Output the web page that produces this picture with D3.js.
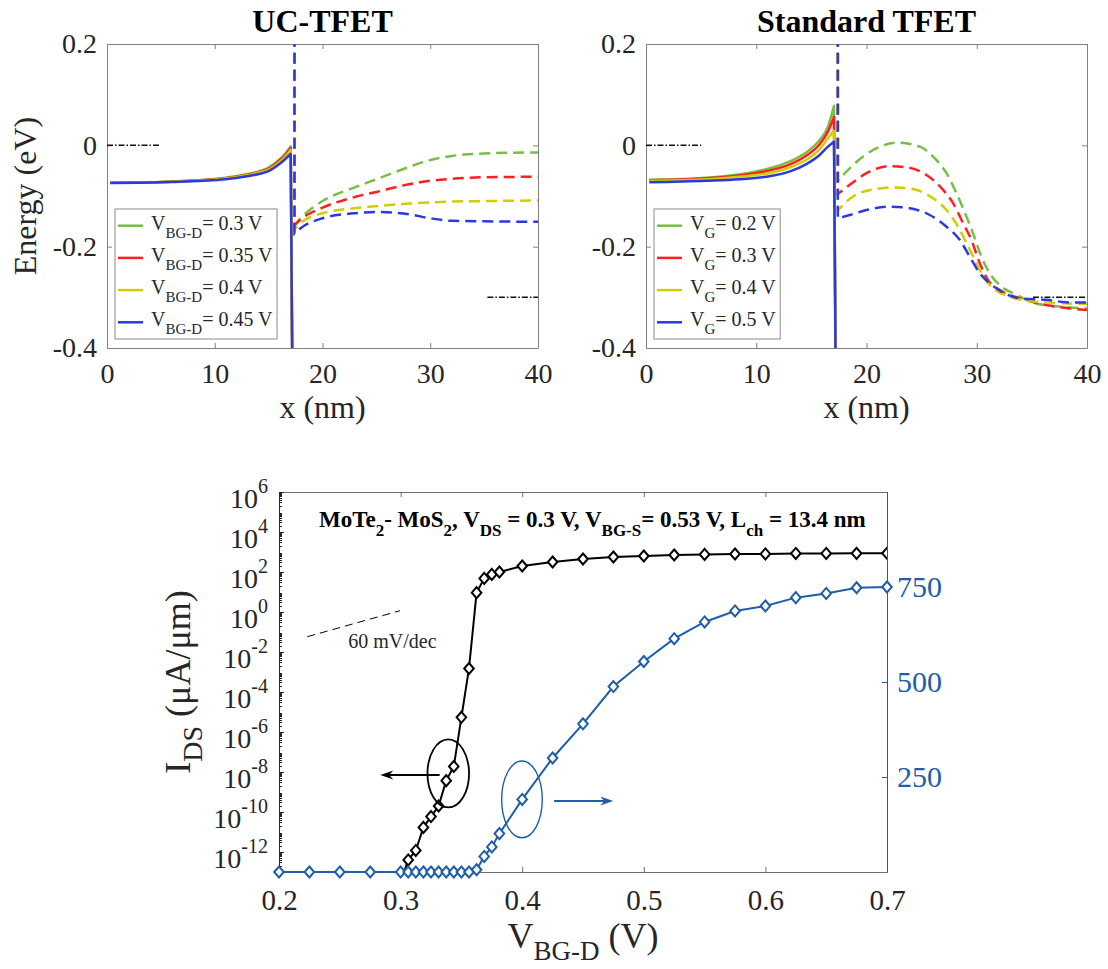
<!DOCTYPE html>
<html>
<head>
<meta charset="utf-8">
<script src="https://d3js.org/d3.v7.min.js"></script>
<style>
  body { margin: 0; background: #fff; }
  svg text { font-family: "Liberation Serif", "Times New Roman", serif; fill: #262626; }
</style>
</head>
<body>
<svg width="1108" height="969" font-family="Liberation Serif, serif"></svg>
<script>
var svg = d3.select('svg');

// ---- band diagrams: x in nm, energy in eV ----
var ucLegendSub = 'BG-D';
var ucLegendValues = ['0.3', '0.35', '0.4', '0.45'];
var stdLegendSub = 'G';
var stdLegendValues = ['0.2', '0.3', '0.4', '0.5'];

var ucSolidX = [0.3, 3, 6, 9, 11, 13, 14, 15, 16, 16.5, 17.05];
var ucSolidGreen = [-0.074, -0.0735, -0.0715, -0.068, -0.064, -0.057, -0.052, -0.044, -0.028, -0.017, -0.002];
var ucSolidRed = [-0.074, -0.0735, -0.0718, -0.0685, -0.065, -0.058, -0.053, -0.046, -0.030, -0.020, -0.005];
var ucSolidYellow = [-0.074, -0.0737, -0.072, -0.069, -0.0655, -0.059, -0.054, -0.048, -0.033, -0.023, -0.009];
var ucSolidBlue = [-0.0745, -0.074, -0.0725, -0.070, -0.067, -0.061, -0.057, -0.051, -0.037, -0.028, -0.017];

var ucDashX = [17.4, 18, 20, 23, 25, 28, 30, 32, 35, 40];
var ucDashGreen = [-0.157, -0.143, -0.110, -0.083, -0.067, -0.043, -0.029, -0.021, -0.016, -0.014];
var ucDashRed = [-0.158, -0.146, -0.123, -0.102, -0.092, -0.077, -0.070, -0.066, -0.063, -0.062];
var ucDashYellow = [-0.166, -0.153, -0.134, -0.124, -0.120, -0.115, -0.1125, -0.111, -0.110, -0.109];
var ucDashBlue = [-0.174, -0.163, -0.144, -0.134, -0.1316, -0.136, -0.144, -0.149, -0.150, -0.151];

var stdSolidX = [0.3, 5.5, 8.5, 10.9, 13, 14.5, 15.75, 16.5, 17.05];
var stdSolidGreen = [-0.068, -0.064, -0.057, -0.047, -0.032, -0.0145, 0.0105, 0.037, 0.078];
var stdSolidRed = [-0.069, -0.065, -0.0595, -0.051, -0.038, -0.021, 0.002, 0.027, 0.056];
var stdSolidYellow = [-0.070, -0.067, -0.062, -0.056, -0.044, -0.029, -0.008, 0.0138, 0.029];
var stdSolidBlue = [-0.073, -0.070, -0.067, -0.062, -0.052, -0.0375, -0.019, -0.0026, 0.0072];

var stdDashGreenX = [17.4, 18.78, 20.6, 22.87, 24.84, 26.2, 27.26, 28.17, 29.07, 29.67, 30.43, 31.19, 32.25, 33.6, 35.4, 38.45, 40];
var stdDashGreen = [-0.07, -0.039, -0.0092, 0.0053, -0.0027, -0.0257, -0.055, -0.095, -0.141, -0.174, -0.220, -0.253, -0.279, -0.295, -0.312, -0.320, -0.322];
var stdDashRedX = [17.4, 18.49, 20.0, 22.11, 23.63, 25.44, 26.95, 27.86, 28.77, 29.52, 30.28, 31.03, 32.1, 33.9, 36.3, 38.45, 40];
var stdDashRed = [-0.096, -0.078, -0.055, -0.041, -0.0434, -0.0586, -0.088, -0.1145, -0.154, -0.187, -0.233, -0.266, -0.2855, -0.302, -0.315, -0.322, -0.325];
var stdDashYellowX = [17.4, 18.78, 20.6, 22.72, 24.54, 26.04, 27.26, 28.31, 29.07, 29.83, 30.58, 31.49, 33.0, 35.4, 38.45, 40];
var stdDashYellow = [-0.128, -0.101, -0.087, -0.083, -0.088, -0.1046, -0.1276, -0.1606, -0.193, -0.226, -0.259, -0.282, -0.2987, -0.3086, -0.312, -0.313];
var stdDashBlueX = [17.4, 18.49, 20.0, 22.11, 23.93, 25.74, 27.26, 28.47, 29.37, 30.28, 31.19, 32.25, 33.9, 36.3, 38.45, 40];
var stdDashBlue = [-0.144, -0.1375, -0.1276, -0.121, -0.1243, -0.1375, -0.1606, -0.187, -0.22, -0.2526, -0.2724, -0.289, -0.302, -0.305, -0.310, -0.310];

// fermi levels: [x start, x end, energy]
var ucFermi = [[0, 5, 0], [35.3, 40, -0.3]];
var stdFermi = [[0, 5, 0], [35.1, 40, -0.3]];

// junction: solid bands fall off at 17.2 nm, dashed bands enter at 17.4 nm
var dropX = 17.2, dropEnd = -0.45, dashTop = 0.25;

var bandTicksX = [0, 10, 20, 30, 40];
var bandTicksY = [-0.4, -0.2, 0, 0.2];

// ---- transfer curve: V_BG-D in V, I_DS in uA/um ----
var vbgLog = [0.3, 0.30625, 0.3125, 0.31875, 0.325, 0.33125, 0.3375, 0.34375, 0.35, 0.35625, 0.3625, 0.36875, 0.375, 0.38125,
  0.4, 0.425, 0.45, 0.475, 0.5, 0.525, 0.55, 0.575, 0.6, 0.625, 0.65, 0.675, 0.7];
var idsLog = [3.2e-14, 4e-13, 1.2e-12, 1.7e-11, 5.9e-11, 2e-10, 3.7e-9, 1.9e-8, 5.4e-6, 1.5e-3, 9.3, 48, 76, 100,
  200, 316, 447, 562, 631, 708, 759, 794, 800, 850, 850, 855, 860];
var vbgLin = [0.2, 0.225, 0.25, 0.275, 0.3, 0.30625, 0.3125, 0.31875, 0.325, 0.33125, 0.3375, 0.34375, 0.35, 0.35625,
  0.3625, 0.36875, 0.375, 0.38125, 0.4, 0.425, 0.45, 0.475, 0.5, 0.525, 0.55, 0.575, 0.6, 0.625, 0.65, 0.675, 0.7];
var idsLin = [0, 0, 0, 0, 0, 0, 0, 0, 0, 0, 0, 0, 0, 0,
  6, 41, 66, 101, 191, 300, 390, 488, 554, 614, 658, 687, 700, 722, 733, 748, 750];

var vTicks = [0.2, 0.3, 0.4, 0.5, 0.6, 0.7];
var logTickExps = [-12, -10, -8, -6, -4, -2, 0, 2, 4, 6];
var linTicks = [250, 500, 750];

// annotations (data units)
var leftEllipse = [0.3392, -8.07, 0.0171, 1.7];   // centre V, centre log10 I, half width V, half height decades
var rightEllipse = [0.3998, 191, 0.0167, 101];    // centre V, centre I, half width V, half height I
var leftArrow = [0.3321, 0.2833, -8.15];          // from V, to V, log10 I
var rightArrow = [0.4262, 0.4749, 187];           // from V, to V, I
var slopeLine = [[0.2233, -1.235], [0.2995, 0.065]];
var slopeLabel = [0.257, -1.8];
var infoPos = [0.2329, 4.25];

var bandColors = ['#78be46', '#ff1f1f', '#d2cd00', '#2a3ae0'];
var blueAxis = '#1f5ea8';
var serif = '"Liberation Serif", "Times New Roman", serif';

// rich text helper: parts are [text, font size, baseline shift]
function addRich(t, parts) {
  var shift = 0;
  parts.forEach(function(p) {
    t.append('tspan').attr('font-size', p[1]).attr('dy', p[2] - shift).text(p[0]);
    shift = p[2];
  });
  return t;
}

function styleAxis(g, color, size) {
  g.attr('font-size', size).attr('font-family', serif).attr('color', color);
}

// ================= band diagram panels =================
var panelTop = 44, panelBottom = 348;

function drawBand(p) {
  var x = d3.scaleLinear().domain([0, 40]).range([p.left, p.right]);
  var y = d3.scaleLinear().domain([-0.4, 0.2]).range([panelBottom, panelTop]);
  var fmt = function(d) { return d === 0 ? '0' : d.toFixed(1); };

  svg.append('clipPath').attr('id', p.id)
    .append('rect')
    .attr('x', p.left).attr('y', panelTop)
    .attr('width', p.right - p.left).attr('height', panelBottom - panelTop);

  // box with inward ticks on all sides
  svg.append('g').attr('transform', 'translate(0,' + panelBottom + ')')
    .call(d3.axisBottom(x).tickValues(bandTicksX).tickSize(-5).tickSizeOuter(0).tickPadding(15))
    .call(styleAxis, '#808080', 28);
  svg.append('g').attr('transform', 'translate(0,' + panelTop + ')')
    .call(d3.axisTop(x).tickValues(bandTicksX).tickSize(-5).tickSizeOuter(0).tickFormat(''))
    .call(styleAxis, '#808080', 28);
  svg.append('g').attr('transform', 'translate(' + p.left + ',0)')
    .call(d3.axisLeft(y).tickValues(bandTicksY).tickSize(-5).tickSizeOuter(0).tickPadding(10).tickFormat(fmt))
    .call(styleAxis, '#808080', 28);
  svg.append('g').attr('transform', 'translate(' + p.right + ',0)')
    .call(d3.axisRight(y).tickValues(bandTicksY).tickSize(-5).tickSizeOuter(0).tickFormat(''))
    .call(styleAxis, '#808080', 28);

  var line = d3.line()
    .x(d => x(d[0]))
    .y(d => y(d[1]))
    .curve(d3.curveMonotoneX);

  var plot = svg.append('g').attr('clip-path', 'url(#' + p.id + ')');

  // valence band in the source (solid), falling off at the junction
  p.solid.forEach(function(s, i) {
    plot.append('path')
      .attr('d', line(d3.zip(p.solidX, s)) + 'L' + x(dropX) + ',' + y(dropEnd))
      .attr('fill', 'none')
      .attr('stroke', bandColors[i])
      .attr('stroke-width', 2.5)
      .attr('stroke-linejoin', 'round');
  });

  // conduction band in the channel (dashed), dropping in from the top
  p.dash.forEach(function(s, i) {
    var xs = p.dashX[i];
    plot.append('path')
      .attr('d', 'M' + x(xs[0]) + ',' + y(dashTop) + 'L' + line(d3.zip(xs, s)).slice(1))
      .attr('fill', 'none')
      .attr('stroke', bandColors[i])
      .attr('stroke-width', 2.5)
      .attr('stroke-dasharray', '11,6');
  });

  // fermi levels
  plot.selectAll('.fermi')
    .data(p.fermi)
    .enter()
    .append('line')
    .attr('x1', d => x(d[0]))
    .attr('x2', d => x(d[1]))
    .attr('y1', d => y(d[2]))
    .attr('y2', d => y(d[2]))
    .attr('stroke', '#111')
    .attr('stroke-width', 1.5)
    .attr('stroke-dasharray', '6,2,1.5,2');

  // legend
  var lx = p.left + 8, ly = 209;
  var legend = svg.append('g');
  var box = legend.append('rect')
    .attr('x', lx).attr('y', ly).attr('height', 130)
    .attr('fill', '#fff').attr('stroke', '#8a8a8a').attr('stroke-width', 1);
  var texts = legend.append('g');
  p.legendValues.forEach(function(v, i) {
    var cy = ly + 16.7 + i * 32.2;
    legend.append('line')
      .attr('x1', lx + 3).attr('x2', lx + 28)
      .attr('y1', cy).attr('y2', cy)
      .attr('stroke', bandColors[i]).attr('stroke-width', 2.5);
    var t = texts.append('text').attr('x', lx + 36).attr('y', cy + 4);
    addRich(t, [['V', 20, 0], [p.legendSub, 15, 8], ['= ' + v + ' V', 20, 0]]);
  });
  var bb = texts.node().getBBox();
  box.attr('width', bb.x + bb.width + 4 - lx);

  // title and axis labels
  svg.append('text')
    .attr('x', (p.left + p.right) / 2).attr('y', 32)
    .attr('text-anchor', 'middle')
    .attr('font-size', 32).attr('font-weight', 'bold')
    .style('fill', '#000')
    .text(p.title);
  svg.append('text')
    .attr('x', (p.left + p.right) / 2).attr('y', 418)
    .attr('text-anchor', 'middle')
    .attr('font-size', 32)
    .text('x (nm)');
  if (p.ylabel) {
    svg.append('text')
      .attr('transform', 'translate(36,' + (panelTop + panelBottom) / 2 + ') rotate(-90)')
      .attr('text-anchor', 'middle')
      .attr('font-size', 32)
      .text(p.ylabel);
  }
}

drawBand({
  id: 'clipUC', left: 107, right: 538, title: 'UC-TFET', ylabel: 'Energy (eV)',
  solidX: ucSolidX,
  solid: [ucSolidGreen, ucSolidRed, ucSolidYellow, ucSolidBlue],
  dashX: [ucDashX, ucDashX, ucDashX, ucDashX],
  dash: [ucDashGreen, ucDashRed, ucDashYellow, ucDashBlue],
  fermi: ucFermi, legendSub: ucLegendSub, legendValues: ucLegendValues
});

drawBand({
  id: 'clipStd', left: 646, right: 1087, title: 'Standard TFET', ylabel: null,
  solidX: stdSolidX,
  solid: [stdSolidGreen, stdSolidRed, stdSolidYellow, stdSolidBlue],
  dashX: [stdDashGreenX, stdDashRedX, stdDashYellowX, stdDashBlueX],
  dash: [stdDashGreen, stdDashRed, stdDashYellow, stdDashBlue],
  fermi: stdFermi, legendSub: stdLegendSub, legendValues: stdLegendValues
});

// ================= transfer characteristic =================
var bL = 279, bR = 887, bT = 492, bB = 872;
var bx = d3.scaleLinear().domain([0.2, 0.7]).range([bL, bR]);
var byLog = d3.scaleLog().domain([1e-13, 1e6]).range([bB, bT]);
var byLin = d3.scaleLinear().domain([0, 1000]).range([bB, bT]);

svg.append('clipPath').attr('id', 'clipIV')
  .append('rect').attr('x', bL).attr('y', bT - 2).attr('width', bR - bL).attr('height', bB - bT + 4);

// bottom and top x axes
svg.append('g').attr('transform', 'translate(0,' + bB + ')')
  .call(d3.axisBottom(bx).tickValues(vTicks).tickSize(-5).tickSizeOuter(0).tickPadding(17).tickFormat(d3.format('.1f')))
  .call(styleAxis, '#6e6e6e', 29);
svg.append('g').attr('transform', 'translate(0,' + bT + ')')
  .call(d3.axisTop(bx).tickValues(vTicks).tickSize(-5).tickSizeOuter(0).tickFormat(''))
  .call(styleAxis, '#6e6e6e', 29);

// left log axis
var leftAxis = svg.append('g').attr('transform', 'translate(' + bL + ',0)')
  .call(d3.axisLeft(byLog).tickValues(logTickExps.map(e => Math.pow(10, e))).tickSize(-5).tickSizeOuter(0).tickPadding(11).tickFormat(''))
  .call(styleAxis, '#262626', 28);
leftAxis.selectAll('.tick text').each(function(d) {
  var t = d3.select(this).attr('dy', null).attr('y', 15);
  var e = Math.round(Math.log10(d));
  addRich(t, [['10', 28, 0], [String(e), 20, -15]]);
});

// minor log ticks
var minor = [];
d3.range(-13, 6).forEach(function(e) {
  d3.range(2, 10).forEach(function(k) { minor.push(k * Math.pow(10, e)); });
});
svg.append('g').selectAll('line')
  .data(minor)
  .enter()
  .append('line')
  .attr('x1', bL).attr('x2', bL + 3)
  .attr('y1', d => Math.round(byLog(d)) + 0.5)
  .attr('y2', d => Math.round(byLog(d)) + 0.5)
  .attr('stroke', '#262626').attr('stroke-width', 1);

// right linear axis
var rightAxis = svg.append('g').attr('transform', 'translate(' + bR + ',0)')
  .call(d3.axisRight(byLin).tickValues(linTicks).tickSize(-5).tickSizeOuter(0).tickPadding(10))
  .call(styleAxis, blueAxis, 30);
rightAxis.selectAll('.tick text').style('fill', blueAxis);

var ivPlot = svg.append('g').attr('clip-path', 'url(#clipIV)');
var diamond = 'M0,-5.5L4.8,0L0,5.5L-4.8,0Z';

// log current (black)
var logPts = d3.zip(vbgLog, idsLog);
ivPlot.append('path')
  .attr('d', d3.line().x(d => bx(d[0])).y(d => byLog(d[1]))(logPts))
  .attr('fill', 'none').attr('stroke', '#000').attr('stroke-width', 2);
ivPlot.selectAll('.mk-log')
  .data(logPts.filter(d => d[1] >= 1e-13))
  .enter()
  .append('path')
  .attr('d', diamond)
  .attr('transform', d => 'translate(' + bx(d[0]) + ',' + byLog(d[1]) + ')')
  .attr('fill', '#fff').attr('stroke', '#000').attr('stroke-width', 2);

// linear current (blue)
var linPts = d3.zip(vbgLin, idsLin);
svg.append('path')
  .attr('d', d3.line().x(d => bx(d[0])).y(d => byLin(d[1]))(linPts))
  .attr('fill', 'none').attr('stroke', blueAxis).attr('stroke-width', 2);
svg.selectAll('.mk-lin')
  .data(linPts)
  .enter()
  .append('path')
  .attr('d', diamond)
  .attr('transform', d => 'translate(' + bx(d[0]) + ',' + byLin(d[1]) + ')')
  .attr('fill', '#fff').attr('stroke', blueAxis).attr('stroke-width', 2);

// ellipses marking each curve
var lcY = byLog(Math.pow(10, leftEllipse[1]));
svg.append('ellipse')
  .attr('cx', bx(leftEllipse[0])).attr('cy', lcY)
  .attr('rx', bx(leftEllipse[0] + leftEllipse[2]) - bx(leftEllipse[0]))
  .attr('ry', byLog(Math.pow(10, leftEllipse[1] - leftEllipse[3])) - lcY)
  .attr('fill', 'none').attr('stroke', '#000').attr('stroke-width', 1.8);
svg.append('ellipse')
  .attr('cx', bx(rightEllipse[0])).attr('cy', byLin(rightEllipse[1]))
  .attr('rx', bx(rightEllipse[0] + rightEllipse[2]) - bx(rightEllipse[0]))
  .attr('ry', byLin(rightEllipse[1] - rightEllipse[3]) - byLin(rightEllipse[1]))
  .attr('fill', 'none').attr('stroke', blueAxis).attr('stroke-width', 1.4);

// arrows pointing to each axis
function arrow(x1, x2, yy, color, w) {
  var dir = x2 > x1 ? 1 : -1;
  svg.append('line')
    .attr('x1', x1).attr('x2', x2 - dir * 8).attr('y1', yy).attr('y2', yy)
    .attr('stroke', color).attr('stroke-width', w);
  svg.append('path')
    .attr('d', 'M' + x2 + ',' + yy + 'L' + (x2 - dir * 13) + ',' + (yy - 4.5) +
      'L' + (x2 - dir * 9) + ',' + yy + 'L' + (x2 - dir * 13) + ',' + (yy + 4.5) + 'Z')
    .attr('fill', color);
}
arrow(bx(leftArrow[0]), bx(leftArrow[1]), byLog(Math.pow(10, leftArrow[2])), '#000', 2.2);
arrow(bx(rightArrow[0]), bx(rightArrow[1]), byLin(rightArrow[2]), blueAxis, 2);

// 60 mV/dec reference slope
svg.append('line')
  .attr('x1', bx(slopeLine[0][0])).attr('y1', byLog(Math.pow(10, slopeLine[0][1])))
  .attr('x2', bx(slopeLine[1][0])).attr('y2', byLog(Math.pow(10, slopeLine[1][1])))
  .attr('stroke', '#000').attr('stroke-width', 1).attr('stroke-dasharray', '8,5');
svg.append('text')
  .attr('x', bx(slopeLabel[0])).attr('y', byLog(Math.pow(10, slopeLabel[1])))
  .attr('font-size', 20)
  .text('60 mV/dec');

// device info
var info = svg.append('text')
  .attr('x', bx(infoPos[0])).attr('y', byLog(Math.pow(10, infoPos[1])))
  .attr('font-weight', 'bold')
  .style('fill', '#000');
addRich(info, [
  ['MoTe', 23, 0], ['2', 17, 9], ['- MoS', 23, 0], ['2', 17, 9], [', V', 23, 0], ['DS', 17, 9],
  [' = 0.3 V, V', 23, 0], ['BG-S', 17, 9], ['= 0.53 V, L', 23, 0], ['ch', 17, 9], [' = 13.4 nm', 23, 0]
]);

// axis labels
var xl = svg.append('text')
  .attr('x', (bL + bR) / 2).attr('y', 948)
  .attr('text-anchor', 'middle');
addRich(xl, [['V', 36, 0], ['BG-D', 27, 12], [' (V)', 36, 0]]);

var yl = svg.append('text')
  .attr('transform', 'translate(190,' + (bT + bB) / 2 + ') rotate(-90)')
  .attr('text-anchor', 'middle');
addRich(yl, [['I', 36, 0], ['DS', 28, 12], [' (\u03bcA/\u03bcm)', 36, 0]]);
</script>
</body>
</html>
